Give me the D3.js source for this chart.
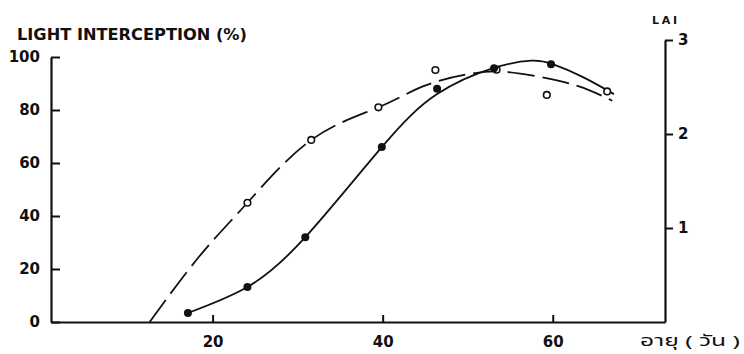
<!DOCTYPE html>
<html>
<head>
<meta charset="utf-8">
<script src="https://cdn.jsdelivr.net/npm/d3@7"></script>
<style>
  html, body { margin: 0; padding: 0; background: #fff; }
  svg { display: block; }
</style>
</head>
<body>
<svg id="chart" width="744" height="354"></svg>
<script>
// observed points: day after sowing, light interception (%)
const filledDays = [17.1, 24.1, 30.9, 39.9, 46.4, 53.1, 59.8];
const filledValues = [3.4, 13.2, 32, 66, 88, 95.8, 97.3];
const openDays = [24.1, 31.6, 39.5, 46.2, 53.4, 59.3, 66.4];
const openValues = [45, 68.7, 81, 95.1, 95.2, 85.7, 87];

// fitted curves
const solidCurveDays = [17.1, 24.1, 30.9, 39.9, 46.4, 53, 57.5, 60, 63.5, 67.2];
const solidCurveValues = [3.4, 13.2, 32, 66, 86, 95.8, 98.6, 97.3, 92.5, 86];
const dashCurveDays = [12.6, 18.5, 24.1, 31.6, 39.5, 44.8, 50, 54, 58.5, 63, 67];
const dashCurveValues = [0, 25, 45, 68.7, 81, 89, 93.5, 94.5, 92.5, 89, 83.5];

// axis ticks
const xTicks = [20, 40, 60];
const leftTicks = [0, 20, 40, 60, 80, 100];
const rightTicks = [1, 2, 3];

const INK = '#111';
const NUM_FONT = '"DejaVu Sans", sans-serif';

const svg = d3.select('#chart');

const x = d3.scaleLinear().domain([1, 73.2]).range([51, 665]);
const yLeft = d3.scaleLinear().domain([0, 100]).range([322, 57]);
const yRight = d3.scaleLinear().domain([0, 3]).range([322, 40]);

function styleAxis(g) {
  g.select('.domain').attr('stroke', INK).attr('stroke-width', 2.2);
  g.selectAll('.tick line').attr('stroke', INK).attr('stroke-width', 2);
  g.selectAll('text')
    .attr('fill', INK)
    .attr('font-family', NUM_FONT)
    .attr('font-weight', 'bold')
    .attr('font-size', 15);
  g.attr('font-family', null).attr('font-size', null);
}

// bottom axis (days)
svg.append('g')
  .attr('transform', `translate(0,${yLeft(0)})`)
  .call(d3.axisBottom(x).tickValues(xTicks).tickSize(-7).tickSizeOuter(0).tickPadding(14))
  .call(styleAxis);

// left axis (light interception)
svg.append('g')
  .attr('transform', `translate(${x(1)},0)`)
  .call(d3.axisLeft(yLeft).tickValues(leftTicks).tickSize(-9).tickSizeOuter(0).tickPadding(11))
  .call(styleAxis);

// right axis (LAI)
svg.append('g')
  .attr('transform', `translate(${x(73.2)},0)`)
  .call(d3.axisRight(yRight).tickValues(rightTicks).tickFormat(d3.format('d'))
    .tickSize(8).tickSizeOuter(0).tickPadding(5))
  .call(styleAxis);

// titles
svg.append('text')
  .attr('x', 17).attr('y', 40)
  .attr('font-family', NUM_FONT).attr('font-size', 15).attr('font-weight', 'bold')
  .attr('fill', INK)
  .attr('textLength', 230).attr('lengthAdjust', 'spacingAndGlyphs')
  .text('LIGHT INTERCEPTION (%)');

svg.append('text')
  .attr('x', 652).attr('y', 24)
  .attr('font-family', NUM_FONT).attr('font-size', 11).attr('font-weight', 'bold')
  .attr('fill', INK)
  .attr('textLength', 25).attr('lengthAdjust', 'spacing')
  .text('LAI');

svg.append('text')
  .attr('x', 640).attr('y', 346)
  .attr('font-family', '"Noto Sans Thai", "Noto Sans", "DejaVu Sans", sans-serif')
  .attr('font-size', 15)
  .attr('fill', INK)
  .attr('textLength', 100).attr('lengthAdjust', 'spacingAndGlyphs')
  .text('อายุ ( วัน )');

// fitted curves
const line = d3.line()
  .x(d => x(d[0]))
  .y(d => yLeft(d[1]))
  .curve(d3.curveNatural);

svg.append('path')
  .datum(d3.zip(dashCurveDays, dashCurveValues))
  .attr('d', line)
  .attr('fill', 'none')
  .attr('stroke', INK)
  .attr('stroke-width', 1.8)
  .attr('stroke-dasharray', '27,8');

svg.append('path')
  .datum(d3.zip(solidCurveDays, solidCurveValues))
  .attr('d', line)
  .attr('fill', 'none')
  .attr('stroke', INK)
  .attr('stroke-width', 1.8);

// markers
svg.append('g').selectAll('circle')
  .data(d3.zip(openDays, openValues))
  .join('circle')
  .attr('cx', d => x(d[0]))
  .attr('cy', d => yLeft(d[1]))
  .attr('r', 3.3)
  .attr('fill', '#fff')
  .attr('stroke', INK)
  .attr('stroke-width', 1.6);

svg.append('g').selectAll('circle')
  .data(d3.zip(filledDays, filledValues))
  .join('circle')
  .attr('cx', d => x(d[0]))
  .attr('cy', d => yLeft(d[1]))
  .attr('r', 4)
  .attr('fill', INK);
</script>
</body>
</html>
